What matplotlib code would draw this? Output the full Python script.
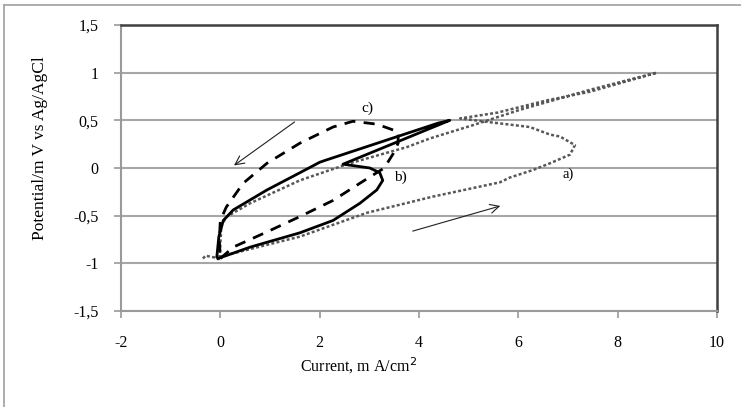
import matplotlib.pyplot as plt
from matplotlib.lines import Line2D

plt.rcParams["font.family"] = ["Liberation Serif", "DejaVu Serif"]
plt.rcParams["axes.unicode_minus"] = False

# curve a) - dotted grey
a_x = [-0.35, -0.3, 0.0, 0.0, 0.6, 1.6, 2.95, 4.28, 5.63, 5.83, 6.3, 6.64, 7.04,
       7.14, 6.84, 6.64, 6.23, 5.43, 4.83, 5.57, 6.58, 7.44, 8.79,
       7.44, 6.03, 5.09, 4.22, 3.76, 2.61, 1.6, 0.6, 0.13, 0.02, 0.0, -0.02]
a_y = [-0.95, -0.92, -0.95, -0.93, -0.85, -0.72, -0.47, -0.3, -0.15, -0.1, -0.02, 0.05, 0.14,
       0.24, 0.33, 0.35, 0.43, 0.48, 0.52, 0.58, 0.71, 0.8, 1.0,
       0.82, 0.61, 0.45, 0.31, 0.22, 0.05, -0.13, -0.37, -0.51, -0.6, -0.8, -0.97]

# curve b) - solid
b_x = [-0.05, 0.6, 1.6, 2.27, 2.81, 3.15, 3.27, 3.21, 3.01, 2.47, 4.62,
       4.38, 2.11, 2.0, 1.6, 0.94, 0.26, 0.06, -0.03, -0.07]
b_y = [-0.95, -0.83, -0.68, -0.55, -0.37, -0.23, -0.13, -0.05, 0.0, 0.04, 0.5,
       0.47, 0.08, 0.06, -0.05, -0.23, -0.44, -0.55, -0.72, -0.93]

# curve c) - dashed
c_x = [0.0, 0.26, 0.94, 1.6, 2.27, 2.81, 3.3, 3.48, 3.58, 3.58, 3.15, 2.67,
       2.27, 1.6, 0.94, 0.46, 0.12, 0.0, -0.02, 0.0]
c_y = [-0.95, -0.83, -0.67, -0.51, -0.34, -0.16, 0.0, 0.15, 0.26, 0.38, 0.46, 0.49,
       0.43, 0.26, 0.05, -0.16, -0.41, -0.55, -0.75, -0.95]

x_ticks = [-2, 0, 2, 4, 6, 8, 10]
y_ticks = [-1.5, -1, -0.5, 0, 0.5, 1, 1.5]
y_labels = ["-1,5", "-1", "-0,5", "0", "0,5", "1", "1,5"]

fig = plt.figure(figsize=(7.41, 4.07), dpi=100)
ax = fig.add_axes([121 / 741, 1 - 311 / 407, (717 - 121) / 741, (311 - 25) / 407])

ax.plot(a_x, a_y, color="#585858", lw=1.8, linestyle=(0, (1.2, 0.9)))
ax.plot(b_x, b_y, color="black", lw=2.0)
ax.plot(c_x, c_y, color="black", lw=2.0, linestyle=(0, (4, 3)))

ax.set_xlim(-2, 10)
ax.set_ylim(-1.5, 1.5)
ax.set_xticks(x_ticks)
ax.set_yticks(y_ticks)
ax.set_yticklabels(y_labels)
ax.yaxis.grid(True, color="#a6a6a6", lw=1.5)
ax.set_axisbelow(True)
ax.tick_params(axis="both", direction="out", length=5, width=1.2, color="#9a9a9a",
               labelsize=11.5)
ax.tick_params(axis="y", pad=11)
ax.tick_params(axis="x", pad=12, labelsize=11.5)
for s in ["left", "bottom"]:
    ax.spines[s].set_color("#9a9a9a")
    ax.spines[s].set_linewidth(1.5)
for s in ["top", "right"]:
    ax.spines[s].set_color("#404040")
    ax.spines[s].set_linewidth(1.8)

# arrows
ax.annotate("", xy=(0.23, 0.01), xytext=(1.54, 0.50),
            arrowprops=dict(arrowstyle="->", lw=0.8, color="#202020", mutation_scale=16))
ax.annotate("", xy=(5.69, -0.39), xytext=(3.82, -0.67),
            arrowprops=dict(arrowstyle="->", lw=0.8, color="#202020", mutation_scale=16))

ax.text(2.97, 0.63, "c)", fontsize=11, ha="center", va="center")
ax.text(3.62, -0.1, "b)", fontsize=11, ha="center", va="center")
ax.text(7.0, -0.07, "a)", fontsize=10.5, ha="center", va="center")

fig.text(358 / 741, 1 - 366 / 407, "Current, m A/cm$^2$", ha="center", va="center",
         fontsize=11.5)
fig.text(40 / 741, 1 - 148 / 407, "Potential/m V vs Ag/AgCl", ha="center", va="center",
         rotation=90, fontsize=12.5)

# outer chart frame (right/bottom cut off)
fig.add_artist(Line2D([4 / 741, 1], [1 - 5 / 407, 1 - 5 / 407], transform=fig.transFigure,
                      color="#a0a0a0", lw=1.2))
fig.add_artist(Line2D([4 / 741, 4 / 741], [0, 1 - 5 / 407], transform=fig.transFigure,
                      color="#a0a0a0", lw=1.2))

fig.savefig("out.png", dpi=100)
